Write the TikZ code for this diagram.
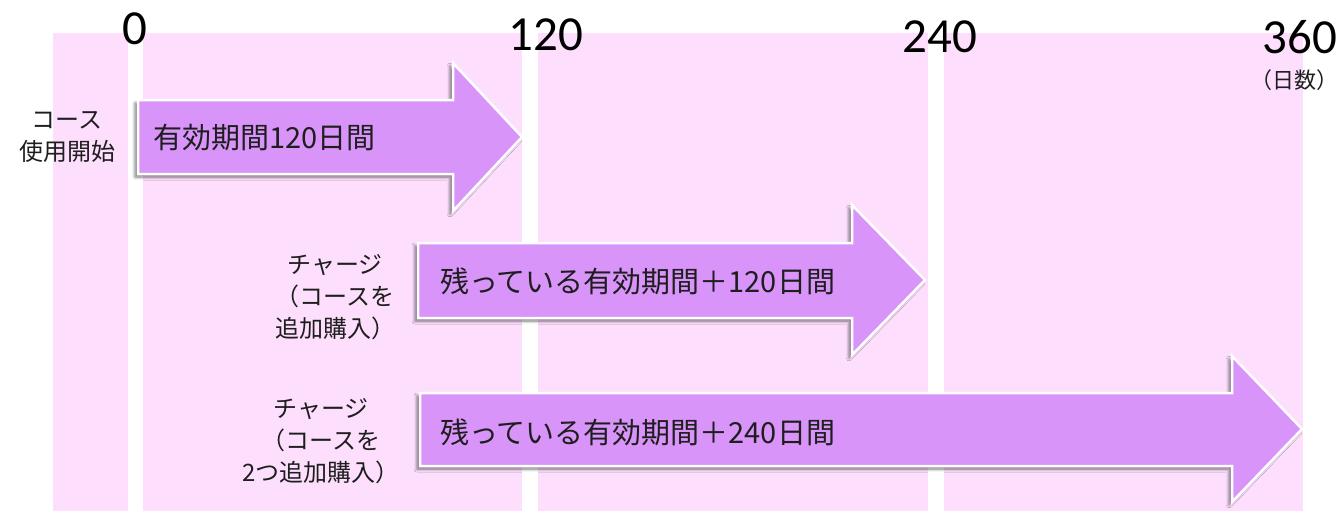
\documentclass[tikz,border=0pt]{standalone}
\usepackage{fontspec}
\setmainfont{Carlito}
\newfontfamily\jp{Noto Sans CJK JP}
\usetikzlibrary{shadows.blur}
\definecolor{bgpink}{RGB}{253,223,253}
\definecolor{arrowfill}{RGB}{217,148,249}
\definecolor{txt}{RGB}{30,30,30}
\tikzset{
  band/.style={fill=bgpink, draw=none},
  bigarrow/.style={fill=arrowfill, draw=white, line width=2.5pt, line join=miter,
    blur shadow={shadow xshift=-3pt, shadow yshift=-3pt, shadow blur steps=6,
      shadow blur radius=3pt, shadow opacity=55}},
  ticklabel/.style={font=\fontsize{49}{52}\selectfont, inner sep=0pt, text=black},
  arrowtext/.style={font=\jp\fontsize{29}{34}\selectfont, inner sep=0pt, anchor=west, text=txt},
  sidelabel/.style={font=\jp\fontsize{24}{32}\selectfont, inner sep=0pt, align=center, text=txt},
}
\begin{document}
\begin{tikzpicture}[x=1pt, y=-1pt]
\useasboundingbox (0,0) rectangle (1340,511);
% background bands
\fill[band] (53,33) rectangle (128,511);
\fill[band] (143,33) rectangle (522,511);
\fill[band] (538,33) rectangle (928,511);
\fill[band] (944,33) rectangle (1303,511);
% tick labels
\node[ticklabel] (t0) at (135,29) {0};
\node[ticklabel] (t120) at (546,35) {120};
\node[ticklabel] (t240) at (940,37) {240};
\node[ticklabel] (t360) at (1300,37) {360};
\node[font=\jp\fontsize{22}{26}\selectfont, inner sep=0pt, text=txt] (unit) at (1294,80) {（日数）};
% arrows
\path[bigarrow] (138,100) -- (453,100) -- (453,63) -- (522,137) -- (453,211) -- (453,174) -- (138,174) -- cycle;
\path[bigarrow] (418,243) -- (852,243) -- (852,205) -- (925,280) -- (852,355) -- (852,318) -- (418,318) -- cycle;
\path[bigarrow] (420,393) -- (1232,393) -- (1232,356) -- (1302,429) -- (1232,502) -- (1232,466) -- (420,466) -- cycle;
% arrow texts
\node[arrowtext] (a1) at (153,138) {有効期間120日間};
\node[arrowtext] (a2) at (440,281) {残っている有効期間＋120日間};
\node[arrowtext] (a3) at (440,432) {残っている有効期間＋240日間};
% side labels
\node[sidelabel] (l1) at (67,137) {コース\\使用開始};
\node[sidelabel] (l2) at (335,297) {チャージ\\（コースを\\追加購入）};
\node[sidelabel] (l3) at (321,441) {チャージ\\（コースを\\2つ追加購入）};
\end{tikzpicture}
\end{document}
